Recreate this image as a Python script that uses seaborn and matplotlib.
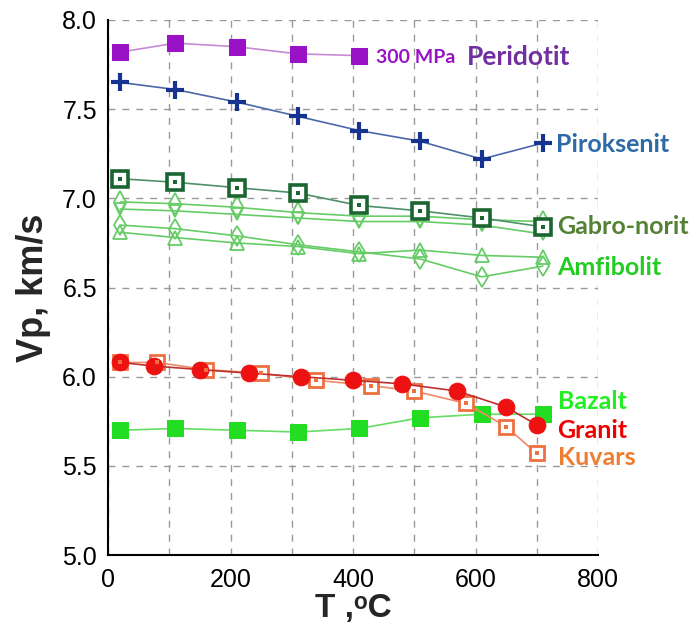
import numpy as np
import pandas as pd
import matplotlib
matplotlib.use("Agg")
import matplotlib.pyplot as plt
import seaborn as sns

# Vp (km/s) vs temperature (C) at 300 MPa
peridotit_t = [20, 110, 210, 310, 410]
peridotit_vp = [7.82, 7.87, 7.85, 7.81, 7.80]

piroksenit_t = [20, 110, 210, 310, 410, 510, 610, 710]
piroksenit_vp = [7.65, 7.61, 7.54, 7.46, 7.38, 7.32, 7.22, 7.31]

gabro_t = [20, 110, 210, 310, 410, 510, 610, 710]
gabro_vp = [7.11, 7.09, 7.06, 7.03, 6.96, 6.93, 6.89, 6.84]
gabro2_vp = [6.98, 6.97, 6.95, 6.92, 6.90, 6.90, 6.88, 6.87]
gabro3_vp = [6.94, 6.93, 6.91, 6.89, 6.87, 6.87, 6.85, 6.80]

amfibolit_t = [20, 110, 210, 310, 410, 510, 610, 710]
amfibolit_vp = [6.85, 6.83, 6.79, 6.74, 6.70, 6.66, 6.56, 6.62]
amfibolit2_vp = [6.81, 6.78, 6.75, 6.73, 6.69, 6.71, 6.68, 6.67]

bazalt_t = [20, 110, 210, 310, 410, 510, 610, 710]
bazalt_vp = [5.70, 5.71, 5.70, 5.69, 5.71, 5.77, 5.79, 5.79]

granit_t = [20, 75, 150, 230, 315, 400, 480, 570, 650, 700]
granit_vp = [6.08, 6.06, 6.04, 6.02, 6.00, 5.98, 5.96, 5.92, 5.83, 5.73]

kuvars_t = [20, 80, 160, 250, 340, 430, 500, 585, 650, 700]
kuvars_vp = [6.08, 6.08, 6.04, 6.02, 5.98, 5.95, 5.92, 5.85, 5.72, 5.57]

sns.set_style("white")
plt.rcParams['font.family'] = ['Liberation Sans', 'DejaVu Sans']

fig = plt.figure(figsize=(6.97, 6.44), dpi=100)
ax = fig.add_axes([0.155, 0.138, 0.703, 0.831])

light = "#66cc66"

sns.lineplot(x=peridotit_t, y=peridotit_vp, ax=ax, color="#c78ad8", lw=1.2,
             marker="s", markersize=11, markerfacecolor="#9a12c6", markeredgecolor="#9a12c6")
sns.lineplot(x=piroksenit_t, y=piroksenit_vp, ax=ax, color="#4a68a8", lw=1.2)
sns.scatterplot(x=piroksenit_t, y=piroksenit_vp, ax=ax, marker="+", s=170,
                color="#15338f", linewidth=3, zorder=5)

sns.lineplot(x=gabro_t, y=gabro2_vp, ax=ax, color=light, lw=1.2, marker="d", markersize=11,
             markerfacecolor="none", markeredgecolor=light, markeredgewidth=1.3)
sns.lineplot(x=gabro_t, y=gabro3_vp, ax=ax, color=light, lw=1.2, marker="v", markersize=9,
             markerfacecolor="none", markeredgecolor=light, markeredgewidth=1.3)
sns.lineplot(x=amfibolit_t, y=amfibolit_vp, ax=ax, color=light, lw=1.2, marker="d", markersize=10,
             markerfacecolor="none", markeredgecolor=light, markeredgewidth=1.3)
sns.lineplot(x=amfibolit_t, y=amfibolit2_vp, ax=ax, color=light, lw=1.2, marker="^", markersize=10,
             markerfacecolor="none", markeredgecolor=light, markeredgewidth=1.3)
sns.lineplot(x=gabro_t, y=gabro_vp, ax=ax, color="#4f8f6a", lw=1.2, marker="s", markersize=11,
             markerfacecolor="white", markeredgecolor="#1b6530", markeredgewidth=2.6)
sns.scatterplot(x=gabro_t, y=gabro_vp, ax=ax, marker="s", s=6, color="#1b6530",
                linewidth=0, zorder=5)

sns.lineplot(x=bazalt_t, y=bazalt_vp, ax=ax, color="#66dd66", lw=1.2, marker="s", markersize=11,
             markerfacecolor="#22dd22", markeredgecolor="#22dd22")
sns.lineplot(x=kuvars_t, y=kuvars_vp, ax=ax, color="#ee8a66", lw=1.2, marker="s", markersize=10,
             markerfacecolor="white", markeredgecolor="#ee7040", markeredgewidth=2)
sns.scatterplot(x=kuvars_t, y=kuvars_vp, ax=ax, marker="s", s=5, color="#ee7040",
                linewidth=0, zorder=5)
sns.lineplot(x=granit_t, y=granit_vp, ax=ax, color="#c03030", lw=1.2, marker="o", markersize=12,
             markerfacecolor="#ee1111", markeredgecolor="#ee1111")

ax.set_xlim(0, 800)
ax.set_ylim(5.0, 8.0)
ax.set_xticks(np.arange(0, 801, 200))
ax.set_xticks(np.arange(100, 800, 200), minor=True)
ax.set_yticks(np.arange(5.0, 8.01, 0.5))
ax.set_yticklabels([f"{v:.1f}" for v in np.arange(5.0, 8.01, 0.5)])
ax.tick_params(axis="both", which="both", direction="inout", length=12, width=1.3,
               labelsize=18, colors="black")
ax.tick_params(axis="y", pad=2)
ax.tick_params(axis="x", pad=3)
ax.grid(True, which="both", linestyle=(0, (5, 5)), color="#999999", lw=1)
for side in ["top", "right"]:
    ax.spines[side].set_visible(False)
for side in ["left", "bottom"]:
    ax.spines[side].set_color("black")
    ax.spines[side].set_linewidth(1.5)

ax.set_xlabel("T ,\u1d52C", fontsize=24, fontweight="bold", labelpad=1)
ax.set_ylabel("Vp, km/s", fontsize=26, fontweight="bold", labelpad=8)

lab = dict(fontweight="bold", family=["Lato", "DejaVu Sans"], va="center", ha="left", clip_on=False)
ax.text(437, 7.79, "300 MPa", color="#9a12c6", fontsize=14, **lab)
ax.text(586, 7.79, "Peridotit", color="#7030a0", fontsize=19, **lab)
ax.text(731, 7.30, "Piroksenit", color="#2e6aa6", fontsize=18, **lab)
ax.text(734, 6.84, "Gabro-norit", color="#548235", fontsize=18, **lab)
ax.text(734, 6.61, "Amfibolit", color="#22cc22", fontsize=18, **lab)
ax.text(734, 5.86, "Bazalt", color="#22ee22", fontsize=18, **lab)
ax.text(734, 5.70, "Granit", color="#ee0000", fontsize=18, **lab)
ax.text(734, 5.55, "Kuvars", color="#ed7d31", fontsize=18, **lab)

fig.savefig("out.png", dpi=100)
